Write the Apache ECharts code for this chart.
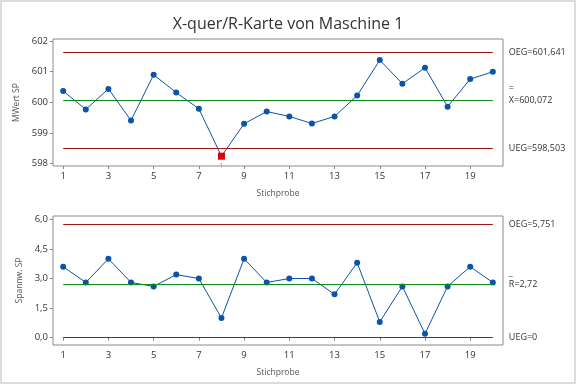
<!DOCTYPE html>
<html><head><meta charset="utf-8">
<script src="https://cdn.jsdelivr.net/npm/echarts@6/dist/echarts.min.js"></script>
<style>html,body{margin:0;padding:0;background:#fff}#c{width:576px;height:384px}</style>
</head><body><div id="c"></div>
<script>
const samples = [1,2,3,4,5,6,7,8,9,10,11,12,13,14,15,16,17,18,19,20];
const xTicks = [1,3,5,7,9,11,13,15,17,19];
const meanValues = [600.37,599.77,600.44,599.41,600.90,600.32,599.79,598.24,599.30,599.70,599.54,599.31,599.54,600.22,601.38,600.61,601.13,599.86,600.76,601.00];
const rangeValues = [3.6,2.8,4.0,2.8,2.6,3.2,3.0,1.0,4.0,2.8,3.0,3.0,2.2,3.8,0.8,2.6,0.2,2.6,3.6,2.8];
const meanLimits = {oeg:601.641, center:600.072, ueg:598.503};
const rangeLimits = {oeg:5.751, center:2.72, ueg:0};
const meanTicks = [598,599,600,601,602];
const rangeTicks = [0,1.5,3,4.5,6];
const outIdx = 7;

const FONT = 'Open Sans';
const RED = '#9e1a1a', GREEN = '#10891e', BLUE = '#0a55a8';
const fmt = v => String(v).replace('.', ',');

function xAxis(gi){
  return {gridIndex:gi, type:'value', min:0.55, max:20.45,
    name:'Stichprobe', nameLocation:'middle', nameGap:23,
    nameTextStyle:{fontFamily:FONT,fontSize:8.5,color:'#555'},
    axisLine:{show:false}, splitLine:{show:false},
    axisTick:{show:true, customValues:xTicks, length:3, lineStyle:{color:'#888'}},
    axisLabel:{customValues:xTicks, fontFamily:FONT, fontSize:9.5, color:'#333', margin:5}};
}
function yAxis(gi,min,max,ticks,name,gap,f){
  return {gridIndex:gi, type:'value', min:min, max:max,
    name:name, nameLocation:'middle', nameGap:gap,
    nameTextStyle:{fontFamily:FONT,fontSize:8.5,color:'#555'},
    axisLine:{show:false}, splitLine:{show:false},
    axisTick:{show:true, customValues:ticks, length:3, lineStyle:{color:'#888'}},
    axisLabel:{customValues:ticks, fontFamily:FONT, fontSize:9.5, color:'#333', margin:5, formatter:f}};
}
function limitLines(lim, labels){
  const lbl = (txt, off) => ({show:true, position:'end', distance:16, formatter:txt,
      fontFamily:FONT, fontSize:9, color:'#333', align:'left', offset:off||[0,0], lineHeight:12});
  return [
    [{coord:[1,lim.oeg], lineStyle:{color:RED}, label:lbl(labels[0])},{coord:[20,lim.oeg]}],
    [{coord:[1,lim.center], lineStyle:{color:GREEN}, label:lbl(labels[1],[0,-6])},{coord:[20,lim.center]}],
    [{coord:[1,lim.ueg], lineStyle:{color:RED}, label:lbl(labels[2])},{coord:[20,lim.ueg]}]
  ];
}

const meanData = meanValues.map((v,i)=>{
  if(i===outIdx) return {value:[samples[i],v], symbol:'rect', symbolSize:7, itemStyle:{color:'#e00000'}};
  return [samples[i],v];
});
const rangeData = rangeValues.map((v,i)=>[samples[i],v]);

const chart = echarts.init(document.getElementById('c'));
chart.setOption({
  animation:false,
  backgroundColor:'#fff',
  title:{text:'X-quer/R-Karte von Maschine 1', left:'center', top:11,
    textStyle:{fontFamily:FONT,fontSize:16,fontWeight:'normal',color:'#333'}},
  graphic:[{type:'rect', shape:{x:1,y:1,width:574,height:382}, style:{fill:'none',stroke:'#dcdcdc',lineWidth:2}, silent:true}],
  grid:[
    {left:53, right:73, top:39, height:127, show:true, borderColor:'#8a8a8a', borderWidth:1},
    {left:53, right:73, top:216, height:129, show:true, borderColor:'#8a8a8a', borderWidth:1}
  ],
  xAxis:[xAxis(0), xAxis(1)],
  yAxis:[yAxis(0,597.92,602.07,meanTicks,'MWert SP',25,v=>String(v)),
         yAxis(1,-0.37,6.17,rangeTicks,'Spannw. SP',21,v=>fmt(v.toFixed(1)))],
  series:[
    {type:'line', xAxisIndex:0, yAxisIndex:0, data:meanData, symbol:'circle', symbolSize:6,
      lineStyle:{color:BLUE,width:1}, itemStyle:{color:BLUE},
      markPoint:{silent:true, symbol:'circle', symbolSize:1, itemStyle:{color:'rgba(0,0,0,0)'},
        data:[{coord:[samples[outIdx], meanValues[outIdx]],
          label:{show:true, formatter:'1', fontFamily:FONT, fontSize:7, color:'#9a9a9a', offset:[0,10]}}]},
      markLine:{silent:true, symbol:'none', lineStyle:{type:'solid',width:1},
        data:limitLines(meanLimits,['OEG=601,641','=\nX=600,072','UEG=598,503'])}},
    {type:'line', xAxisIndex:1, yAxisIndex:1, data:rangeData, symbol:'circle', symbolSize:6,
      lineStyle:{color:BLUE,width:1}, itemStyle:{color:BLUE},
      markLine:{silent:true, symbol:'none', lineStyle:{type:'solid',width:1},
        data:limitLines(rangeLimits,['OEG=5,751','_\nR=2,72','UEG=0'])}}
  ]
});
</script></body></html>
